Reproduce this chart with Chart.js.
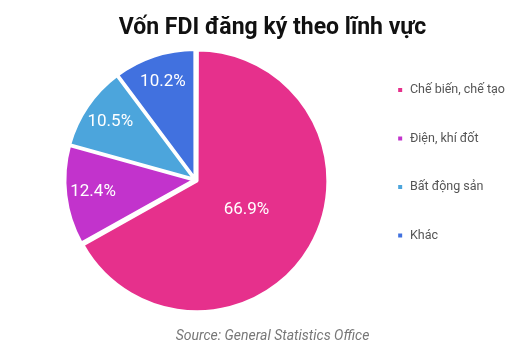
<!DOCTYPE html>
<html>
<head>
<meta charset="utf-8">
<script src="https://cdn.jsdelivr.net/npm/chart.js@4"></script>
<style>
  html, body { margin: 0; padding: 0; background: #fff; }
  #wrap { width: 526px; height: 351px; }
</style>
</head>
<body>
<div id="wrap"><canvas id="c"></canvas></div>
<script>
  // du lieu doc tu hinh
  var categories = ['Chế biến, chế tạo', 'Điện, khí đốt', 'Bất động sản', 'Khác'];
  var shares = [66.9, 12.4, 10.5, 10.2];
  var colors = ['#e6308c', '#c233cc', '#4ca5dc', '#4171df'];

  // ve nhan % len tung lat
  var sliceLabels = {
    id: 'sliceLabels',
    afterDatasetsDraw: function (chart) {
      var ctx = chart.ctx;
      var meta = chart.getDatasetMeta(0);
      ctx.save();
      ctx.fillStyle = '#fff';
      ctx.font = '17px Roboto, "Noto Sans", sans-serif';
      ctx.textAlign = 'center';
      ctx.textBaseline = 'middle';
      meta.data.forEach(function (arc, i) {
        var p = arc.getProps(['x', 'y', 'startAngle', 'endAngle', 'outerRadius'], true);
        var mid = (p.startAngle + p.endAngle) / 2;
        var r = p.outerRadius * (shares[i] > 50 ? 0.46 : 0.8);
        ctx.fillText(shares[i].toFixed(1) + '%', p.x + Math.cos(mid) * r, p.y + Math.sin(mid) * r);
      });
      ctx.restore();
    }
  };

  new Chart(document.getElementById('c'), {
    type: 'pie',
    data: {
      labels: categories,
      datasets: [{
        data: shares,
        backgroundColor: colors,
        borderColor: '#fff',
        borderWidth: 3,
        offset: [8, 5, 5, 5]
      }]
    },
    options: {
      responsive: true,
      maintainAspectRatio: false,
      animation: false,
      layout: { padding: { left: 30, right: 11 } },
      plugins: {
        title: {
          display: true,
          text: 'Vốn FDI đăng ký theo lĩnh vực',
          color: '#111',
          font: { family: 'Roboto, "Noto Sans", sans-serif', size: 23, weight: 'bold' },
          padding: { top: 14, bottom: 4 }
        },
        subtitle: {
          display: true,
          position: 'bottom',
          text: 'Source: General Statistics Office',
          color: '#777',
          font: { family: 'Roboto, "Noto Sans", sans-serif', size: 14, style: 'italic' },
          padding: { top: 14, bottom: 6 }
        },
        legend: {
          position: 'right',
          align: 'start',
          title: { display: true, text: ' ', font: { size: 11 }, padding: { top: 34.5, bottom: 0 } },
          labels: {
            usePointStyle: true,
            pointStyle: 'rect',
            boxWidth: 7,
            boxHeight: 7,
            padding: 36,
            color: '#555',
            font: { family: 'Roboto, "Noto Sans", sans-serif', size: 12.5 }
          }
        },
        tooltip: { enabled: false }
      }
    },
    plugins: [sliceLabels]
  });
</script>
</body>
</html>
